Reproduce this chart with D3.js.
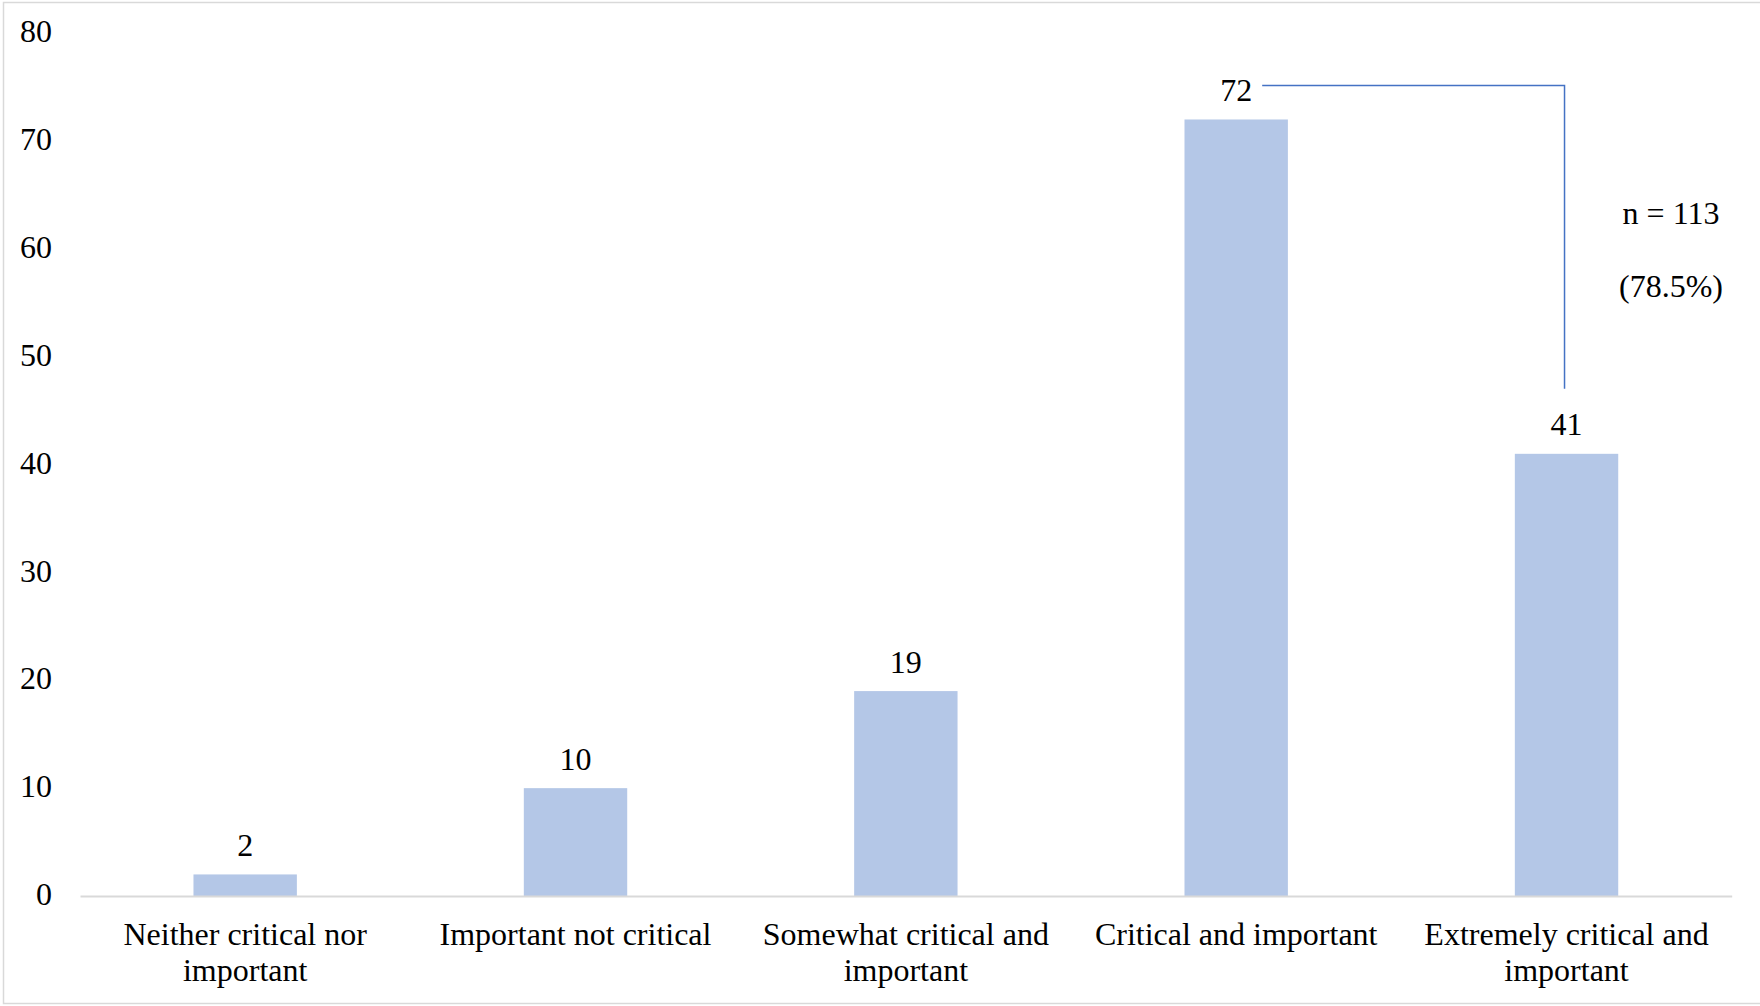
<!DOCTYPE html>
<html>
<head>
<meta charset="utf-8">
<script src="https://cdn.jsdelivr.net/npm/d3@7"></script>
<style>
  html, body { margin: 0; padding: 0; background: #ffffff; }
  svg { display: block; }
  text { font-family: "Liberation Serif", "Times New Roman", serif; fill: #000; }
</style>
</head>
<body>
<script>
// Responses per importance rating
const categories = [
  "Neither critical nor important",
  "Important not critical",
  "Somewhat critical and important",
  "Critical and important",
  "Extremely critical and important"
];
const counts = [2, 10, 19, 72, 41];
const yTicks = [0, 10, 20, 30, 40, 50, 60, 70, 80];
// Categories grouped by the bracket annotation
const bracketFrom = "Critical and important";
const bracketTo = "Extremely critical and important";

const W = 1760, H = 1006;
const margin = { top: 33.2, right: 28.3, bottom: 110, left: 80 };
const innerW = W - margin.left - margin.right;
const innerH = H - margin.top - margin.bottom;

const svg = d3.select("body").append("svg")
  .attr("width", W).attr("height", H);

// outer frame
svg.append("rect")
  .attr("x", 3.5).attr("y", 2.5)
  .attr("width", W + 10).attr("height", 1001)
  .attr("fill", "none").attr("stroke", "#d9d9d9").attr("stroke-width", 1.5);

const g = svg.append("g").attr("transform", `translate(${margin.left},${margin.top})`);

const x = d3.scaleBand().domain(categories).range([0, innerW]).padding(0);
const y = d3.scaleLinear().domain([0, 80]).range([innerH, 0]);
const barW = x.bandwidth() * 0.313;
const cx = c => x(c) + x.bandwidth() / 2;

// y axis: labels only
const yAxis = g.append("g")
  .call(d3.axisLeft(y).tickValues(yTicks).tickSize(0).tickPadding(28));
yAxis.select(".domain").remove();
yAxis.selectAll("text")
  .style("font-family", '"Liberation Serif", "Times New Roman", serif')
  .style("font-size", "32px").attr("fill", "#000").attr("dy", "0.27em");

// bars
g.selectAll("rect.bar").data(categories).join("rect")
  .attr("class", "bar")
  .attr("x", d => cx(d) - barW / 2)
  .attr("y", (d, i) => y(counts[i]))
  .attr("width", barW)
  .attr("height", (d, i) => innerH - y(counts[i]))
  .attr("fill", "#b4c7e7");

// x axis line and category labels
const xAxis = g.append("g").attr("transform", `translate(0,${innerH})`)
  .call(d3.axisBottom(x).tickSize(0).tickPadding(0));
xAxis.select(".domain").attr("stroke", "#d9d9d9").attr("stroke-width", 2);
xAxis.selectAll("text")
  .style("font-family", '"Liberation Serif", "Times New Roman", serif')
  .style("font-size", "32px").attr("fill", "#000")
  .attr("y", 48.5).attr("dy", 0)
  .each(function (d) { wrap(d3.select(this), d, 320, 36); });

function wrap(sel, str, maxW, lh) {
  const words = str.split(" ");
  sel.text(null);
  let line = [];
  let tspan = sel.append("tspan").attr("x", 0).attr("dy", 0);
  words.forEach(w => {
    line.push(w);
    tspan.text(line.join(" "));
    if (tspan.node().getComputedTextLength() > maxW && line.length > 1) {
      line.pop();
      tspan.text(line.join(" "));
      line = [w];
      tspan = sel.append("tspan").attr("x", 0).attr("dy", lh).text(w);
    }
  });
}

// value labels
g.selectAll("text.val").data(categories).join("text")
  .attr("class", "val")
  .attr("x", d => cx(d))
  .attr("y", (d, i) => y(counts[i]) - 18.5)
  .attr("text-anchor", "middle")
  .style("font-size", "32px")
  .text((d, i) => counts[i]);

// bracket joining the two highest ratings
const iFrom = categories.indexOf(bracketFrom);
const iTo = categories.indexOf(bracketTo);
const yTopLine = y(counts[iFrom]) - 34;
const xStart = cx(bracketFrom) + 26;
const xEnd = cx(bracketTo) - 2;
const yBottom = y(counts[iTo]) - 65;
g.append("path")
  .attr("d", `M${xStart},${yTopLine}H${xEnd}V${yBottom}`)
  .attr("fill", "none").attr("stroke", "#4472c4").attr("stroke-width", 1.5);

// combined count and share of all responses
const total = d3.sum(counts);
const nGroup = counts[iFrom] + counts[iTo];
const noteX = cx(bracketTo) + 104.5;
g.append("text").attr("x", noteX).attr("y", 224 - margin.top)
  .attr("text-anchor", "middle").style("font-size", "32px")
  .text(`n = ${nGroup}`);
g.append("text").attr("x", noteX).attr("y", 297 - margin.top)
  .attr("text-anchor", "middle").style("font-size", "32px")
  .text(`(${(nGroup / total * 100).toFixed(1)}%)`);
</script>
</body>
</html>
